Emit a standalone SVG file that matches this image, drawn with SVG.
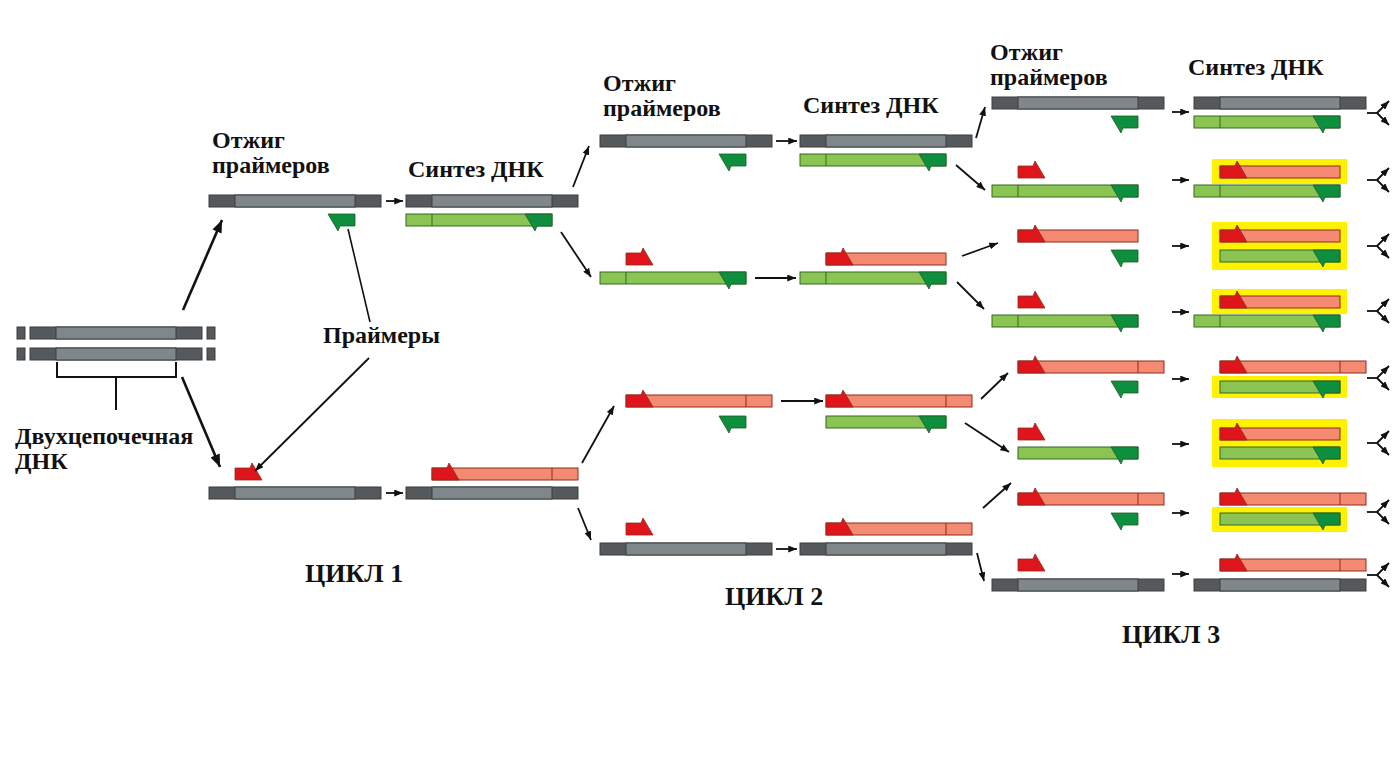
<svg xmlns="http://www.w3.org/2000/svg" xmlns:xlink="http://www.w3.org/1999/xlink" width="1397" height="757" viewBox="0 0 1397 757">
<style>
.gd{fill:#55595b;stroke:#3a3e40;stroke-width:1}
.gm{fill:#80878a;stroke:#3a3e40;stroke-width:1}
.rp{fill:#e0141b;stroke:#8a2d1c;stroke-width:0.8}
.gp{fill:#0d8f3f;stroke:#1f5a20;stroke-width:0.8}
.sal{fill:#f48a72;stroke:#8a2d1c;stroke-width:1}
.rl{stroke:#8a2d1c;stroke-width:1}
.lg{fill:#8cc453;stroke:#2e6b22;stroke-width:1}
.gl{stroke:#2e6b22;stroke-width:1}
.hl{fill:#fff200}
.t{font-family:"Liberation Serif","Times New Roman",serif;font-weight:bold;font-size:24px;fill:#111}
.tc{font-family:"Liberation Serif","Times New Roman",serif;font-weight:bold;font-size:26px;fill:#111}
.a{stroke:#111;stroke-width:1.8;fill:none;marker-end:url(#ah)}
.ab{stroke:#111;stroke-width:2.6;fill:none;marker-end:url(#ahb)}
.ln{stroke:#111;stroke-width:1.6;fill:none}
</style>
<defs>
<marker id="ah" viewBox="0 0 10 8" refX="10" refY="4" markerWidth="9" markerHeight="7" markerUnits="userSpaceOnUse" orient="auto"><path d="M0,0 L10,4 L0,8 z" fill="#111"/></marker>
<marker id="ahb" viewBox="0 0 10 8" refX="10" refY="4" markerWidth="13" markerHeight="10" markerUnits="userSpaceOnUse" orient="auto"><path d="M0,0 L10,4 L0,8 z" fill="#111"/></marker>
<g id="gs"><rect class="gd" x="0" y="0" width="172" height="12"/><rect class="gm" x="26" y="0" width="120" height="12"/></g>
<polygon id="rp" class="rp" points="0,0 15,0 17,-5 27,12 0,12"/>
<polygon id="gp" class="gp" points="0,0 -27,0 -17,17 -15,12 0,12"/>
<g id="rf"><rect class="sal" x="0" y="0" width="146" height="12"/><line class="rl" x1="120" y1="0" x2="120" y2="12"/><use href="#rp"/></g>
<g id="rs"><rect class="sal" x="0" y="0" width="120" height="12"/><use href="#rp"/></g>
<g id="gf"><rect class="lg" x="0" y="0" width="146" height="12"/><line class="gl" x1="26" y1="0" x2="26" y2="12"/><use href="#gp" x="146"/></g>
<g id="gsh"><rect class="lg" x="0" y="0" width="120" height="12"/><use href="#gp" x="120"/></g>
<g id="fork"><line x1="0" y1="0" x2="10" y2="0" stroke="#111" stroke-width="1.8"/><line class="a" x1="10" y1="0" x2="22" y2="-12"/><line class="a" x1="10" y1="0" x2="22" y2="12"/></g>
</defs>
<rect width="1397" height="757" fill="#fff"/>

<g id="dsDNA">
<rect class="gd" x="17" y="327" width="8" height="12"/><use href="#gs" x="30" y="327"/><rect class="gd" x="207" y="327" width="8" height="12"/>
<rect class="gd" x="17" y="348" width="8" height="12"/><use href="#gs" x="30" y="348"/><rect class="gd" x="207" y="348" width="8" height="12"/>
<path d="M57,362 V377 H176 V362 M116,377 V410" stroke="#111" stroke-width="2" fill="none"/>
<text class="t" x="15" y="444">Двухцепочечная</text>
<text class="t" x="15" y="469">ДНК</text>
</g>

<g id="c1-anneal-top"><use href="#gs" x="209" y="195"/><use href="#gp" x="355" y="214"/>
<text class="t" x="212" y="148">Отжиг</text><text class="t" x="212" y="173">праймеров</text></g>
<g id="c1-synth-top"><use href="#gs" x="406" y="195"/><use href="#gf" x="406" y="214"/>
<text class="t" x="408" y="177">Синтез ДНК</text></g>
<g id="c1-anneal-bot"><use href="#rp" x="235" y="468"/><use href="#gs" x="209" y="487"/></g>
<g id="c1-synth-bot"><use href="#rf" x="432" y="468"/><use href="#gs" x="406" y="487"/></g>
<g id="primers-label"><text class="t" x="323" y="343">Праймеры</text></g>
<g id="cycle1-label"><text class="tc" x="305" y="582">ЦИКЛ 1</text></g>

<g id="c2-anneal-a"><use href="#gs" x="600" y="135"/><use href="#gp" x="746" y="154"/>
<text class="t" x="603" y="91">Отжиг</text><text class="t" x="603" y="116">праймеров</text></g>
<g id="c2-synth-a"><use href="#gs" x="800" y="135"/><use href="#gf" x="800" y="154"/>
<text class="t" x="803" y="113">Синтез ДНК</text></g>
<g id="c2-anneal-b"><use href="#rp" x="626" y="253"/><use href="#gf" x="600" y="272"/></g>
<g id="c2-synth-b"><use href="#rs" x="826" y="253"/><use href="#gf" x="800" y="272"/></g>
<g id="c2-anneal-c"><use href="#rf" x="626" y="395"/><use href="#gp" x="746" y="416"/></g>
<g id="c2-synth-c"><use href="#rf" x="826" y="395"/><use href="#gsh" x="826" y="416"/></g>
<g id="c2-anneal-d"><use href="#rp" x="626" y="523"/><use href="#gs" x="600" y="543"/></g>
<g id="c2-synth-d"><use href="#rf" x="826" y="523"/><use href="#gs" x="800" y="543"/></g>
<g id="cycle2-label"><text class="tc" x="725" y="605">ЦИКЛ 2</text></g>

<g id="c3-anneal-1"><use href="#gs" x="992" y="97"/><use href="#gp" x="1138" y="116"/>
<text class="t" x="990" y="60">Отжиг</text><text class="t" x="990" y="85">праймеров</text></g>
<g id="c3-anneal-2"><use href="#rp" x="1018" y="166"/><use href="#gf" x="992" y="185"/></g>
<g id="c3-anneal-3"><use href="#rs" x="1018" y="230"/><use href="#gp" x="1138" y="250"/></g>
<g id="c3-anneal-4"><use href="#rp" x="1018" y="296"/><use href="#gf" x="992" y="315"/></g>
<g id="c3-anneal-5"><use href="#rf" x="1018" y="361"/><use href="#gp" x="1138" y="381"/></g>
<g id="c3-anneal-6"><use href="#rp" x="1018" y="428"/><use href="#gsh" x="1018" y="447"/></g>
<g id="c3-anneal-7"><use href="#rf" x="1018" y="493"/><use href="#gp" x="1138" y="513"/></g>
<g id="c3-anneal-8"><use href="#rp" x="1018" y="559"/><use href="#gs" x="992" y="579"/></g>

<g id="c3-synth-1"><use href="#gs" x="1194" y="97"/><use href="#gf" x="1194" y="116"/>
<text class="t" x="1188" y="75">Синтез ДНК</text></g>
<g id="c3-synth-2"><rect class="hl" x="1212" y="159" width="135" height="25"/><use href="#rs" x="1220" y="166"/><use href="#gf" x="1194" y="185"/></g>
<g id="c3-synth-3"><rect class="hl" x="1212" y="222" width="135" height="48"/><use href="#rs" x="1220" y="230"/><use href="#gsh" x="1220" y="250"/></g>
<g id="c3-synth-4"><rect class="hl" x="1212" y="289" width="135" height="25"/><use href="#rs" x="1220" y="296"/><use href="#gf" x="1194" y="315"/></g>
<g id="c3-synth-5"><use href="#rf" x="1220" y="361"/><rect class="hl" x="1212" y="376" width="135" height="22"/><use href="#gsh" x="1220" y="381"/></g>
<g id="c3-synth-6"><rect class="hl" x="1212" y="419" width="135" height="48"/><use href="#rs" x="1220" y="428"/><use href="#gsh" x="1220" y="447"/></g>
<g id="c3-synth-7"><use href="#rf" x="1220" y="493"/><rect class="hl" x="1212" y="507" width="135" height="25"/><use href="#gsh" x="1220" y="513"/></g>
<g id="c3-synth-8"><use href="#rf" x="1220" y="559"/><use href="#gs" x="1194" y="579"/></g>
<g id="cycle3-label"><text class="tc" x="1122" y="643">ЦИКЛ 3</text></g>

<g id="connectors">
<line class="ab" x1="183" y1="310" x2="222" y2="220"/>
<line class="ab" x1="182" y1="377" x2="220" y2="467"/>
<line class="ln" x1="370" y1="322" x2="348" y2="229"/>
<line class="a" x1="369" y1="358" x2="255" y2="471"/>
<line class="a" x1="386" y1="201" x2="403" y2="201"/>
<line class="a" x1="386" y1="493" x2="403" y2="493"/>
<line class="a" x1="573" y1="187" x2="589" y2="146"/>
<line class="a" x1="561" y1="232" x2="591" y2="277"/>
<line class="a" x1="582" y1="463" x2="614" y2="406"/>
<line class="a" x1="578" y1="508" x2="591" y2="540"/>
<line class="a" x1="776" y1="141" x2="797" y2="141"/>
<line class="a" x1="755" y1="278" x2="796" y2="278"/>
<line class="a" x1="781" y1="401" x2="823" y2="401"/>
<line class="a" x1="776" y1="549" x2="797" y2="549"/>
<line class="a" x1="976" y1="138" x2="985" y2="107"/>
<line class="a" x1="956" y1="165" x2="985" y2="190"/>
<line class="a" x1="962" y1="256" x2="998" y2="243"/>
<line class="a" x1="957" y1="282" x2="984" y2="309"/>
<line class="a" x1="981" y1="399" x2="1008" y2="373"/>
<line class="a" x1="965" y1="423" x2="1009" y2="452"/>
<line class="a" x1="983" y1="508" x2="1011" y2="483"/>
<line class="a" x1="977" y1="553" x2="984" y2="581"/>
<line class="a" x1="1172" y1="112" x2="1189" y2="112"/>
<line class="a" x1="1172" y1="180" x2="1189" y2="180"/>
<line class="a" x1="1172" y1="246" x2="1189" y2="246"/>
<line class="a" x1="1172" y1="312" x2="1189" y2="312"/>
<line class="a" x1="1172" y1="379" x2="1189" y2="379"/>
<line class="a" x1="1172" y1="444" x2="1189" y2="444"/>
<line class="a" x1="1172" y1="513" x2="1189" y2="513"/>
<line class="a" x1="1172" y1="574" x2="1189" y2="574"/>
<use href="#fork" x="1367" y="113"/>
<use href="#fork" x="1367" y="180"/>
<use href="#fork" x="1367" y="246"/>
<use href="#fork" x="1367" y="311"/>
<use href="#fork" x="1367" y="378"/>
<use href="#fork" x="1367" y="443"/>
<use href="#fork" x="1367" y="512"/>
<use href="#fork" x="1367" y="575"/>
</g>
</svg>
